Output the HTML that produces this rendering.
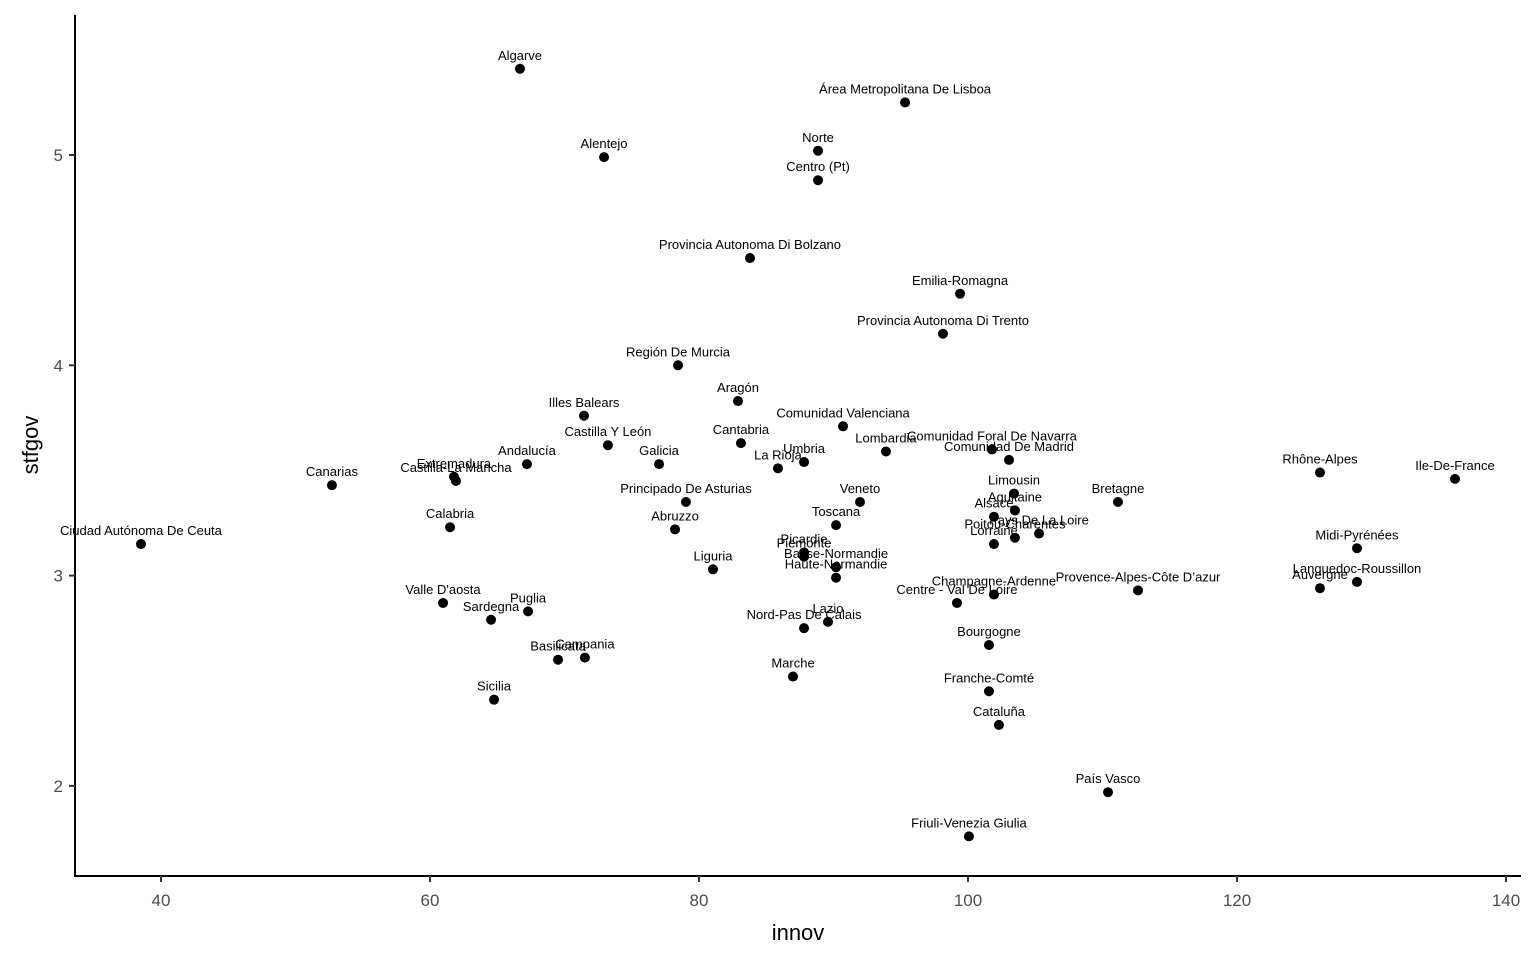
<!DOCTYPE html>
<html><head><meta charset="utf-8"><style>
body{margin:0;background:#fff}
svg{display:block;font-family:"Liberation Sans",Arial,sans-serif}
</style></head><body>
<svg id="chart" width="1536" height="960" viewBox="0 0 1536 960">
<rect width="1536" height="960" fill="#fff"/>
<g id="points"></g>
<g id="labels"></g>
<line x1="75" y1="15" x2="75" y2="876" stroke="#000" stroke-width="2"/>
<line x1="74" y1="876" x2="1521" y2="876" stroke="#000" stroke-width="2"/>
<g id="xticks"></g>
<g id="yticks"></g>
<text x="798" y="940" font-size="22" text-anchor="middle" fill="#000">innov</text>
<text transform="translate(38,445) rotate(-90)" font-size="22" text-anchor="middle" fill="#000">stfgov</text>
</svg>
<script>
const regions=["Algarve","Área Metropolitana De Lisboa","Alentejo","Norte","Centro (Pt)","Provincia Autonoma Di Bolzano","Emilia-Romagna","Provincia Autonoma Di Trento","Región De Murcia","Aragón","Illes Balears","Comunidad Valenciana","Castilla Y León","Cantabria","Andalucía","Galicia","Lombardia","Comunidad Foral De Navarra","Comunidad De Madrid","Umbria","La Rioja","Canarias","Extremadura","Castilla-La Mancha","Rhône-Alpes","Ile-De-France","Principado De Asturias","Veneto","Bretagne","Limousin","Aquitaine","Alsace","Pays De La Loire","Poitou-Charentes","Lorraine","Abruzzo","Calabria","Toscana","Ciudad Autónoma De Ceuta","Midi-Pyrénées","Picardie","Piemonte","Basse-Normandie","Haute-Normandie","Liguria","Languedoc-Roussillon","Auvergne","Provence-Alpes-Côte D’azur","Champagne-Ardenne","Centre - Val De Loire","Valle D'aosta","Puglia","Sardegna","Lazio","Nord-Pas De Calais","Bourgogne","Campania","Basilicata","Marche","Franche-Comté","Sicilia","Cataluña","País Vasco","Friuli-Venezia Giulia"];
const innov=[66.69,95.32,72.94,88.85,88.85,83.79,99.41,98.14,78.44,82.90,71.45,90.71,73.23,83.12,67.21,77.03,93.90,101.78,103.05,87.81,85.87,52.71,61.78,61.93,126.17,136.21,79.03,91.97,111.15,103.42,103.49,101.93,105.28,103.49,101.93,78.22,61.49,90.19,38.51,128.92,87.81,87.81,90.19,90.19,81.04,128.92,126.17,112.64,101.93,99.18,60.97,67.29,64.54,89.59,87.81,101.56,71.52,69.52,86.99,101.56,64.76,102.30,110.41,100.07];
const stfgov=[5.41,5.25,4.99,5.02,4.88,4.51,4.34,4.15,4.00,3.83,3.76,3.71,3.62,3.63,3.53,3.53,3.59,3.60,3.55,3.54,3.51,3.43,3.47,3.45,3.49,3.46,3.35,3.35,3.35,3.39,3.31,3.28,3.20,3.18,3.15,3.22,3.23,3.24,3.15,3.13,3.11,3.09,3.04,2.99,3.03,2.97,2.94,2.93,2.91,2.87,2.87,2.83,2.79,2.78,2.75,2.67,2.61,2.60,2.52,2.45,2.41,2.29,1.97,1.76];
const xTicks=[40,60,80,100,120,140];
const yTicks=[2,3,4,5];
const NS="http://www.w3.org/2000/svg";
function xs(v){return 161+(v-40)*13.45;}
function ys(v){return 155+(5-v)*210.3;}
function mk(t,a,p){const e=document.createElementNS(NS,t);for(const k in a)e.setAttribute(k,a[k]);p.appendChild(e);return e;}
const P=document.getElementById('points'),L=document.getElementById('labels');
regions.forEach((r,i)=>{
  const c=mk('circle',{cx:xs(innov[i]),cy:ys(stfgov[i]),r:5,fill:'#000'},P);
  
  
  const t=mk('text',{x:xs(innov[i]),y:ys(stfgov[i])-9,'font-size':13,'text-anchor':'middle',fill:'#000'},L);
  t.textContent=r;
  
  
});
const XT=document.getElementById('xticks'),YT=document.getElementById('yticks');
xTicks.forEach(v=>{
  const l=mk('line',{x1:xs(v),x2:xs(v),y1:876,y2:882,stroke:'#333','stroke-width':2},XT);
  
  
  const t=mk('text',{x:xs(v),y:906,'font-size':17,'text-anchor':'middle',fill:'#4d4d4d'},XT);
  t.textContent=v;
  
  
});
yTicks.forEach(v=>{
  const l=mk('line',{x1:69,x2:75,y1:ys(v),y2:ys(v),stroke:'#333','stroke-width':2},YT);
  
  
  const t=mk('text',{x:63,y:ys(v)+6,'font-size':17,'text-anchor':'end',fill:'#4d4d4d'},YT);
  t.textContent=v;
  
  
});
</script>
</body></html>
